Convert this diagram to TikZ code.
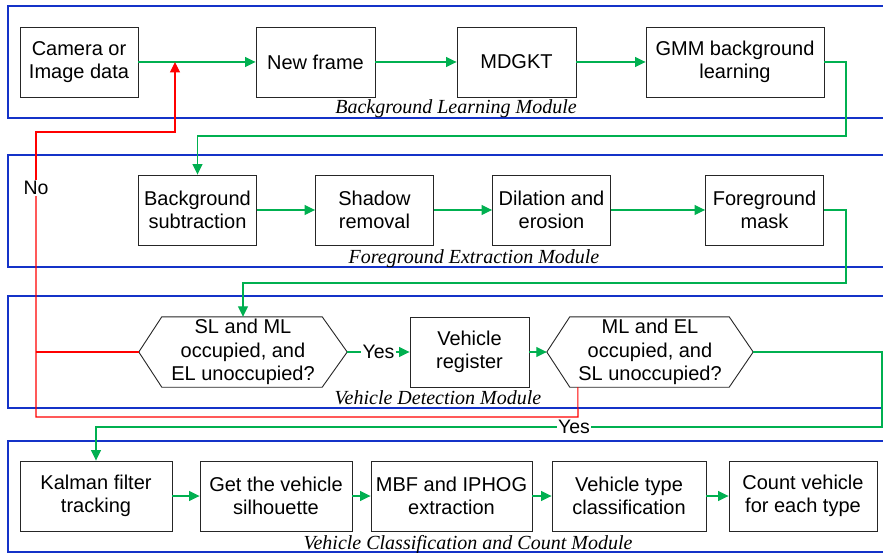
\documentclass[tikz,border=0pt]{standalone}
\usepackage{fontspec}
\setmainfont{Liberation Sans}
\newfontfamily\serifit{Liberation Serif}
\usetikzlibrary{arrows.meta,calc}
\definecolor{fgreen}{RGB}{0,176,80}
\definecolor{mblue}{RGB}{20,50,200}
\definecolor{fred}{RGB}{255,0,0}
\begin{document}
\begin{tikzpicture}[x=1pt,y=-1pt,
  box/.style={draw=black!85,line width=0.9pt,minimum height=70pt,align=center,inner sep=0pt,
    font=\fontsize{20}{23.5}\selectfont},
  hexbox/.style={draw=none,minimum height=70pt,align=center,inner sep=0pt,
    font=\fontsize{20}{23.5}\selectfont},
  module/.style={draw=mblue,line width=1.1pt},
  modlabel/.style={anchor=base,inner sep=0pt,font=\serifit\itshape\fontsize{20}{24}\selectfont},
  garrow/.style={draw=fgreen,line width=1.1pt,-{Triangle[length=10.5pt,width=10pt]}},
  gline/.style={draw=fgreen,line width=1.1pt},
  rline/.style={draw=fred,line width=1.1pt},
  rarrow/.style={draw=fred,line width=1.1pt,-{Triangle[length=10.5pt,width=10pt]}},
  lab/.style={fill=white,inner sep=1pt,font=\fontsize{19.5}{23}\selectfont}
]
\useasboundingbox (0,0) rectangle (883,553);
\clip (0,0) rectangle (883,553);
\fill[white] (0,0) rectangle (883,553);

% modules
\draw[module] (8,6) rectangle (900,118);
\draw[module] (8,155) rectangle (900,267);
\draw[module] (8,296) rectangle (900,408);
\draw[module] (8,441) rectangle (900,552);
\node[modlabel] (m1) at (456,114) {Background Learning Module};
\node[modlabel] (m2) at (474,264) {Foreground Extraction Module};
\node[modlabel] (m3) at (438,404) {Vehicle Detection Module};
\node[modlabel] (m4) at (468,549.5) {Vehicle Classification and Count Module};

% row 1
\node[box,minimum width=118pt] (cam) at (79,62) {Camera or\\Image data};
\node[box,minimum width=119pt] (nf) at (315.5,62) {New frame};
\node[box,minimum width=119pt] (md) at (516.5,62) {MDGKT};
\node[box,minimum width=178pt] (gmm) at (735,62) {GMM background\\learning};

% row 2
\node[box,minimum width=118pt] (bs) at (197.5,210) {Background\\subtraction};
\node[box,minimum width=118pt] (sr) at (374.5,210) {Shadow\\removal};
\node[box,minimum width=118pt] (de) at (551.5,210) {Dilation and\\erosion};
\node[box,minimum width=118pt] (fm) at (764.5,210) {Foreground\\mask};

% row 3
\node[hexbox,minimum width=208pt] (h1) at (243,352) {SL and ML\\occupied, and\\EL unoccupied?};
\draw[black!85,line width=0.9pt] (h1.west) -- ($(h1.north west)+(23,0)$) -- ($(h1.north east)+(-25,0)$)
  -- (h1.east) -- ($(h1.south east)+(-25,0)$) -- ($(h1.south west)+(23,0)$) -- cycle;
\node[box,minimum width=119pt] (vr) at (469.5,352) {Vehicle\\register};
\node[hexbox,minimum width=206pt] (h2) at (650,352) {ML and EL\\occupied, and\\SL unoccupied?};
\draw[black!85,line width=0.9pt] (h2.west) -- ($(h2.north west)+(23,0)$) -- ($(h2.north east)+(-24,0)$)
  -- (h2.east) -- ($(h2.south east)+(-24,0)$) -- ($(h2.south west)+(23,0)$) -- cycle;

% row 4
\node[box,minimum width=152pt] (kal) at (96,496) {Kalman filter\\tracking};
\node[box,minimum width=152pt] (gs) at (276,496) {Get the vehicle\\silhouette};
\node[box,minimum width=161pt] (mbf) at (451.5,496) {MBF and IPHOG\\extraction};
\node[box,minimum width=154pt] (vt) at (629,496) {Vehicle type\\classification};
\node[box,minimum width=148pt] (cnt) at (803,496) {Count vehicle\\for each type};

% green connectors
\draw[garrow] (cam) -- (nf);
\draw[garrow] (nf) -- (md);
\draw[garrow] (md) -- (gmm);
\draw[garrow] (gmm.east) -- (846,62) -- (846,136) -- (197.5,136) -- (bs.north);
\draw[garrow] (bs) -- (sr);
\draw[garrow] (sr) -- (de);
\draw[garrow] (de) -- (fm);
\draw[garrow] (fm.east) -- (846,210) -- (846,283) -- (243,283) -- (h1.north);
\node[lab] (yes1) at (378.5,352) {Yes};
\draw[gline] (h1.east) -- (yes1.west);
\draw[garrow] (yes1.east) -- (vr.west);
\draw[garrow] (vr) -- (h2);
\node[lab] (yes2) at (574,427) {Yes};
\draw[gline] (h2.east) -- (882,352) -- (882,427) -- (yes2.east);
\draw[garrow] (yes2.west) -- (96,427) -- (kal.north);
\draw[garrow] (kal) -- (gs);
\draw[garrow] (gs) -- (mbf);
\draw[garrow] (mbf) -- (vt);
\draw[garrow] (vt) -- (cnt);

% red connectors
\coordinate (rtip) at (175,62);
\node[lab] (no) at (36,188) {No};
\draw[rline] (h1.west) -- (36,352);
\draw[rline] ($(h2.south west)+(31,0)$) -- (578,417) -- (36,417) -- (no.south);
\draw[rarrow] (no.north) -- (36,132) -- (175,132) -- (rtip);
\end{tikzpicture}
\end{document}
